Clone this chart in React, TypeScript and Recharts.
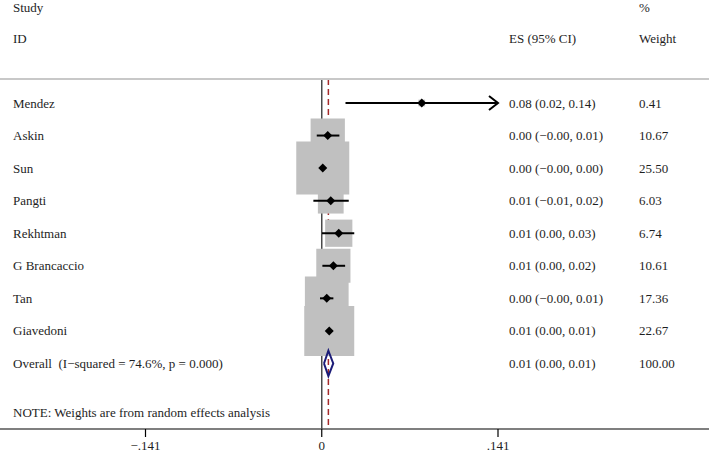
import React from 'react';
import { ScatterChart, Scatter, XAxis, YAxis, ZAxis } from 'recharts';

// ---------- data ----------
const studies = ['Mendez', 'Askin', 'Sun', 'Pangti', 'Rekhtman', 'G Brancaccio', 'Tan', 'Giavedoni'];
const esValues = [0.08, 0.0048, 0.0008, 0.0072, 0.0136, 0.0093, 0.004, 0.006];
const ciLow = [0.019, -0.004, -0.001, -0.0067, 0.0002, 0.0005, -0.0014, 0.0035];
const ciHigh = [0.14, 0.0141, 0.0025, 0.0216, 0.026, 0.0187, 0.0093, 0.0085];
const weights = [0.41, 10.67, 25.5, 6.03, 6.74, 10.61, 17.36, 22.67];
const esText = [
  '0.08 (0.02, 0.14)',
  '0.00 (\u22120.00, 0.01)',
  '0.00 (\u22120.00, 0.00)',
  '0.01 (\u22120.01, 0.02)',
  '0.01 (0.00, 0.03)',
  '0.01 (0.00, 0.02)',
  '0.00 (\u22120.00, 0.01)',
  '0.01 (0.00, 0.01)',
];
const weightText = ['0.41', '10.67', '25.50', '6.03', '6.74', '10.61', '17.36', '22.67'];

const overallLabel = 'Overall  (I\u2212squared = 74.6%, p = 0.000)';
const overallEs = 0.0053;
const overallLow = 0.0018;
const overallHigh = 0.0092;
const overallEsText = '0.01 (0.00, 0.01)';
const overallWeightText = '100.00';
const noteText = 'NOTE: Weights are from random effects analysis';

const headerStudy = ['Study', 'ID'];
const headerEs = 'ES (95% CI)';
const headerWeight = ['%', 'Weight'];

const xTicks = [-0.141, 0, 0.141];
const xTickLabels = ['\u2212.141', '0', '.141'];
const plotMax = 0.141;

// ---------- layout (axis units) ----------
const X_MIN = -0.2574;
const X_MAX = 0.3098;
const Y_MIN = -2.163;
const Y_MAX = 11.013;
const COL_STUDY = -0.247;
const COL_ES = 0.1498;
const COL_W = 0.2538;
const ROW_H1 = -1.95;
const ROW_H2 = -0.97;
const ROW_SEP = 0.263;
const ROW_OVERALL = studies.length + 1;
const ROW_NOTE = 10.52;
const DIAMOND_HALF = 0.39;
const BOX_MAX_SIDE = 53;

const FONT = '"Liberation Serif", "Times New Roman", serif';

const rows = studies.map((_, i) => i + 1);
const maxWeight = Math.max(...weights);

const boxData = rows.map((r, i) => ({ x: esValues[i], y: r, w: weights[i] }));
const markerData = rows.map((r, i) => ({ x: esValues[i], y: r }));
const ciSeries = rows.map((r, i) => [
  { x: Math.max(ciLow[i], -plotMax), y: r },
  { x: Math.min(ciHigh[i], plotMax), y: r },
]);
const arrowData = rows
  .map((r, i) => ({ x: plotMax, y: r, clipped: ciHigh[i] >= plotMax - 0.002 }))
  .filter((d) => d.clipped);

const diamondData = [
  { x: overallLow, y: ROW_OVERALL },
  { x: overallEs, y: ROW_OVERALL - DIAMOND_HALF },
  { x: overallHigh, y: ROW_OVERALL },
  { x: overallEs, y: ROW_OVERALL + DIAMOND_HALF },
  { x: overallLow, y: ROW_OVERALL },
];

const textData = [
  { x: COL_STUDY, y: ROW_H1, t: headerStudy[0] },
  { x: COL_W, y: ROW_H1, t: headerWeight[0] },
  { x: COL_STUDY, y: ROW_H2, t: headerStudy[1] },
  { x: COL_ES, y: ROW_H2, t: headerEs },
  { x: COL_W, y: ROW_H2, t: headerWeight[1] },
  ...rows.map((r, i) => ({ x: COL_STUDY, y: r, t: studies[i] })),
  ...rows.map((r, i) => ({ x: COL_ES, y: r, t: esText[i] })),
  ...rows.map((r, i) => ({ x: COL_W, y: r, t: weightText[i] })),
  { x: COL_STUDY, y: ROW_OVERALL, t: overallLabel },
  { x: COL_ES, y: ROW_OVERALL, t: overallEsText },
  { x: COL_W, y: ROW_OVERALL, t: overallWeightText },
  { x: COL_STUDY, y: ROW_NOTE, t: noteText },
];

const Empty = () => <g />;

const TextShape = (p: any) => (
  <text
    x={p.cx}
    y={p.cy}
    dy="0.35em"
    fontFamily={FONT}
    fontSize={13}
    fill="#1e1e1e"
    style={{ whiteSpace: 'pre' }}
  >
    {p.payload.t}
  </text>
);

const DiamondMarker = (p: any) => {
  const s = 4.5;
  return (
    <path
      d={`M${p.cx},${p.cy - s}L${p.cx + s},${p.cy}L${p.cx},${p.cy + s}L${p.cx - s},${p.cy}Z`}
      fill="#000"
    />
  );
};

const ArrowHead = (p: any) => (
  <path
    d={`M${p.cx - 9},${p.cy - 7}L${p.cx},${p.cy}L${p.cx - 9},${p.cy + 7}`}
    fill="none"
    stroke="#000"
    strokeWidth={2}
  />
);

export default function App() {
  return (
    <div style={{ position: 'absolute', left: 0, top: 0, background: '#fff' }}>
      <ScatterChart width={709} height={456} margin={{ top: 0, right: 0, bottom: 0, left: 0 }}>
        <XAxis
          type="number"
          dataKey="x"
          domain={[X_MIN, X_MAX]}
          allowDataOverflow
          ticks={xTicks}
          interval={0}
          tickFormatter={(v: number) => xTickLabels[xTicks.indexOf(v)] ?? String(v)}
          axisLine={{ stroke: '#000', strokeWidth: 1.2 }}
          tickLine={{ stroke: '#000', strokeWidth: 1.2 }}
          tickSize={8}
          tickMargin={4}
          height={27}
          tick={{ fontFamily: FONT, fontSize: 13, fill: '#1e1e1e' }}
        />
        <YAxis type="number" dataKey="y" domain={[Y_MIN, Y_MAX]} allowDataOverflow reversed hide />
        <ZAxis zAxisId={0} range={[64, 64]} />
        <ZAxis zAxisId="w" dataKey="w" domain={[0, maxWeight]} range={[0, BOX_MAX_SIDE * BOX_MAX_SIDE]} />

        {/* zero line */}
        <Scatter
          data={[{ x: 0, y: ROW_SEP }, { x: 0, y: Y_MAX }]}
          line={{ stroke: '#4a4a4a', strokeWidth: 1.5 }}
          shape={Empty}
          isAnimationActive={false}
        />
        {/* overall effect dashed line */}
        <Scatter
          data={[{ x: overallEs, y: ROW_SEP }, { x: overallEs, y: Y_MAX }]}
          line={{ stroke: '#a52a2a', strokeWidth: 1.5, strokeDasharray: '6 4' }}
          shape={Empty}
          isAnimationActive={false}
        />
        {/* weight boxes */}
        <Scatter zAxisId="w" data={boxData} shape="square" fill="#c0c0c0" isAnimationActive={false} />
        {/* CIs */}
        {ciSeries.map((d, i) => (
          <Scatter
            key={`ci-${i}`}
            data={d}
            line={{ stroke: '#000', strokeWidth: 2 }}
            shape={Empty}
            isAnimationActive={false}
          />
        ))}
        <Scatter data={arrowData} shape={ArrowHead} isAnimationActive={false} />
        <Scatter data={markerData} shape={DiamondMarker} isAnimationActive={false} />
        {/* overall diamond */}
        <Scatter
          data={diamondData}
          line={{ stroke: '#1c1c78', strokeWidth: 2 }}
          shape={Empty}
          isAnimationActive={false}
        />
        {/* header separator */}
        <Scatter
          data={[{ x: X_MIN, y: ROW_SEP }, { x: X_MAX, y: ROW_SEP }]}
          line={{ stroke: '#c8c8c8', strokeWidth: 2 }}
          shape={Empty}
          isAnimationActive={false}
        />
        {/* text columns */}
        <Scatter data={textData} shape={TextShape} isAnimationActive={false} />
      </ScatterChart>
    </div>
  );
}
